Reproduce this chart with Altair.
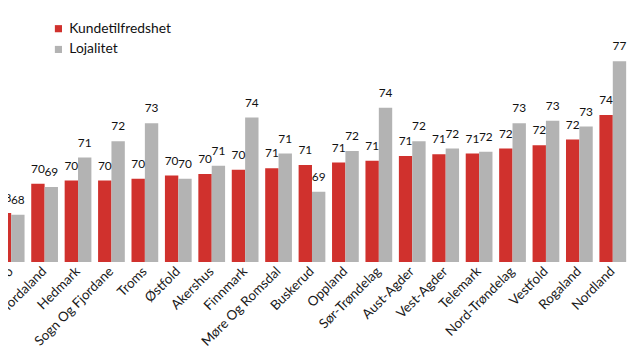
import altair as alt
import pandas as pd

categories = ["Oslo", "Hordaland", "Hedmark", "Sogn Og Fjordane", "Troms", "Østfold",
              "Akershus", "Finnmark", "Møre Og Romsdal", "Buskerud", "Oppland",
              "Sør-Trøndelag", "Aust-Agder", "Vest-Agder", "Telemark",
              "Nord-Trøndelag", "Vestfold", "Rogaland", "Nordland"]
kundetilfredshet = [67.8, 69.6, 69.8, 69.8, 69.9, 70.1, 70.2, 70.45, 70.55, 70.75,
                    70.9, 71.0, 71.3, 71.4, 71.45, 71.75, 71.95, 72.3, 73.8]
lojalitet = [67.7, 69.4, 71.2, 72.2, 73.3, 69.9, 70.7, 73.65, 71.45, 69.1,
             71.6, 74.25, 72.2, 71.75, 71.55, 73.3, 73.45, 73.1, 77.1]
series = ["Kundetilfredshet", "Lojalitet"]
colors = ["#d0312d", "#b3b3b3"]
y_min, y_max = 64.8, 80.0

rows = []
for i, c in enumerate(categories):
    rows.append({"fylke": c, "serie": series[0], "verdi": kundetilfredshet[i]})
    rows.append({"fylke": c, "serie": series[1], "verdi": lojalitet[i]})
df = pd.DataFrame(rows)

FONT = "Lato"

x = alt.X("fylke:N", sort=categories, title=None,
          scale=alt.Scale(range=[-10.3, 625.1], paddingInner=0.2, paddingOuter=0),
          axis=alt.Axis(labelAngle=-45, labelAlign="right", labelBaseline="middle",
                        labelPadding=7, labelFontSize=13.5, labelColor="#1a1a1a",
                        labelFont=FONT, ticks=False, domain=False, labelOverlap=False))
xo = alt.XOffset("serie:N", sort=series, scale=alt.Scale(paddingInner=0, paddingOuter=0))
y = alt.Y("verdi:Q", scale=alt.Scale(domain=[y_min, y_max], zero=False, nice=False),
          axis=None)

base = alt.Chart(df).encode(x=x, xOffset=xo)

bars = base.mark_bar(clip=True).encode(
    y=y,
    y2=alt.datum(y_min),
    color=alt.Color("serie:N", sort=series,
                    scale=alt.Scale(domain=series, range=colors),
                    legend=alt.Legend(title=None, orient="none", legendX=44, legendY=8,
                                      symbolType="square", symbolSize=52,
                                      symbolStrokeWidth=0, labelFontSize=14,
                                      labelFont=FONT, labelColor="#111111",
                                      rowPadding=7, labelOffset=4)),
)

labels = base.mark_text(baseline="alphabetic", dy=-11, fontSize=12, font=FONT,
                        color="#111111").encode(
    y=y,
    text=alt.Text("verdi:Q", format=".0f"),
)

chart = (bars + labels).properties(
    width=630, height=251,
    padding={"left": 0, "top": 4, "right": 0, "bottom": 88},
    autosize="none",
).configure_view(stroke=None)

chart.save("out.html", embed_options={"renderer": "svg", "actions": False})
